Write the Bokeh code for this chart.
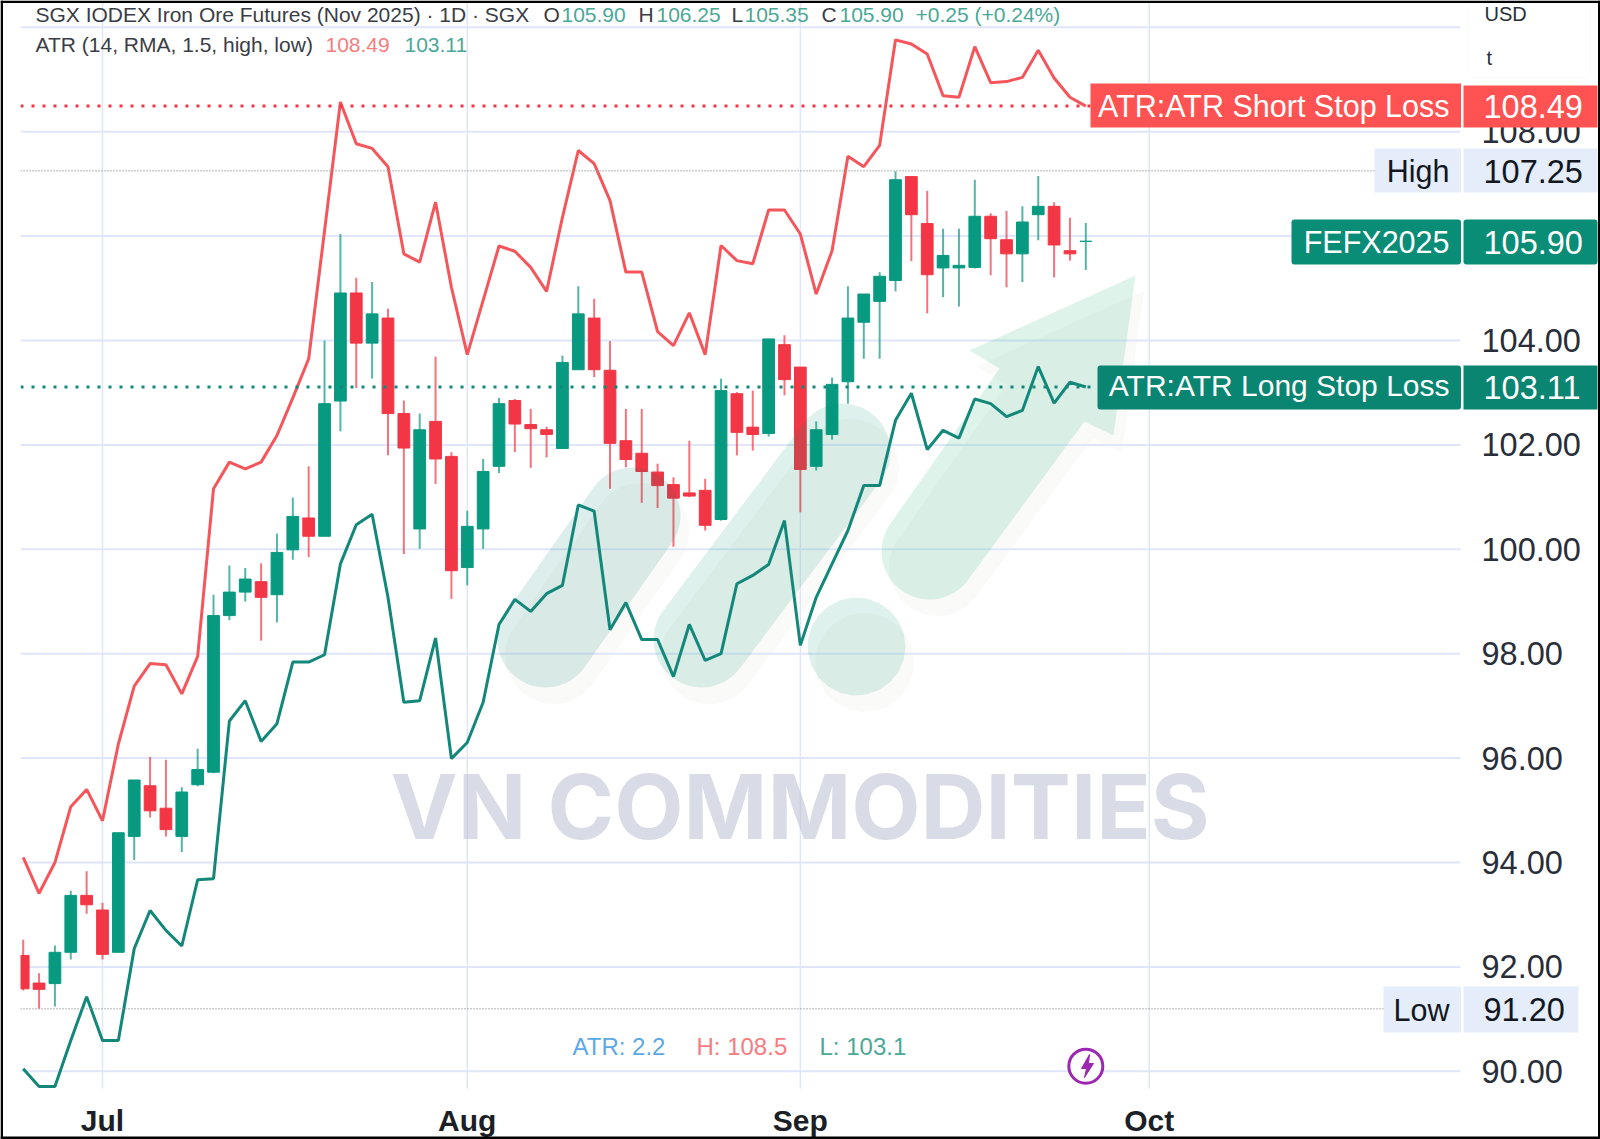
import numpy as np

from bokeh.embed import file_html
from bokeh.models import BoxAnnotation, ColumnDataSource, Label, NumeralTickFormatter, Range1d
from bokeh.plotting import figure
from bokeh.resources import INLINE

# trading-day index, 0 is 1 Jul 2025
days = list(range(-5, 63))

highs = [92.52, 91.88, 92.41, 93.46, 93.83, 93.23, 94.57, 95.58, 96.02, 95.97,
         95.44, 96.18, 99.13, 99.69, 99.64, 99.73, 100.30, 100.99, 101.59, 104.00,
         106.04, 105.20, 105.12, 104.61, 102.85, 102.60, 103.69, 101.86, 100.74, 101.73,
         102.90, 102.88, 102.69, 102.35, 103.71, 105.04, 104.80, 103.99, 102.69, 102.69,
         101.64, 101.38, 102.08, 101.35, 103.27, 103.01, 103.04, 104.03, 104.10, 103.49,
         102.45, 103.29, 105.04, 104.89, 105.31, 107.24, 107.14, 106.87, 106.14, 106.14,
         107.08, 106.44, 106.48, 106.57, 107.15, 106.65, 106.35, 106.25]
lows = [91.55, 91.20, 91.24, 92.14, 93.02, 92.14, 92.28, 94.05, 94.86, 94.50,
        94.20, 95.46, 95.71, 98.64, 99.00, 98.25, 98.60, 99.80, 99.85, 100.25,
        102.26, 103.09, 103.27, 101.80, 99.91, 100.01, 101.25, 99.05, 99.31, 100.01,
        101.46, 101.86, 101.56, 101.76, 101.93, 103.44, 103.30, 101.16, 101.57, 100.89,
        100.79, 100.05, 101.00, 100.36, 100.55, 101.80, 101.89, 102.16, 102.95, 100.71,
        101.51, 102.10, 102.79, 103.65, 103.65, 104.94, 105.52, 104.52, 104.83, 104.65,
        105.38, 105.25, 105.02, 105.12, 105.92, 105.21, 105.53, 105.35]
opens = [92.22, 91.69, 91.68, 92.28, 93.37, 93.09, 92.28, 94.50, 95.47, 95.04,
         94.50, 95.49, 95.73, 98.73, 99.18, 99.38, 99.13, 99.99, 100.60, 100.25,
         102.84, 104.91, 103.95, 104.43, 102.60, 100.39, 102.45, 101.78, 99.65, 100.39,
         101.59, 102.85, 102.39, 102.29, 101.93, 103.44, 104.43, 103.43, 102.08, 101.84,
         101.48, 101.24, 101.08, 101.13, 100.57, 102.98, 102.34, 102.22, 103.92, 103.49,
         101.59, 102.20, 103.21, 104.35, 104.75, 105.15, 107.14, 106.24, 105.39, 105.39,
         105.40, 106.38, 105.93, 105.66, 106.41, 106.57, 105.72, 105.90]
closes = [91.58, 91.57, 92.28, 93.37, 93.19, 92.24, 94.57, 95.58, 94.99, 94.63,
          95.35, 95.78, 98.73, 99.18, 99.43, 99.08, 99.94, 100.63, 100.25, 102.79,
          104.91, 103.95, 104.51, 102.60, 101.94, 102.29, 101.73, 99.59, 100.44, 101.49,
          102.79, 102.40, 102.31, 102.20, 103.58, 104.51, 103.44, 102.03, 101.72, 101.49,
          101.22, 100.98, 101.02, 100.46, 103.04, 102.24, 102.20, 104.03, 103.25, 101.53,
          102.29, 103.16, 104.43, 104.89, 105.23, 107.08, 106.41, 105.26, 105.63, 105.44,
          106.38, 105.95, 105.66, 106.27, 106.57, 105.83, 105.66, 105.90]

atr_short = [94.10, 93.41, 94.00, 95.07, 95.40, 94.80, 96.27, 97.38, 97.81, 97.79,
             97.23, 97.95, 101.16, 101.67, 101.54, 101.67, 102.18, 102.90, 103.65, 106.10,
             108.57, 107.77, 107.68, 107.33, 105.66, 105.50, 106.65, 105.02, 103.73, 104.77,
             105.81, 105.71, 105.40, 104.94, 106.36, 107.64, 107.39, 106.68, 105.31, 105.31,
             104.17, 103.90, 104.53, 103.73, 105.82, 105.53, 105.47, 106.50, 106.50, 106.04,
             104.89, 105.72, 107.53, 107.33, 107.74, 109.76, 109.68, 109.49, 108.69, 108.66,
             109.63, 108.94, 108.96, 109.04, 109.56, 109.03, 108.66, 108.49]
atr_long = [90.05, 89.71, 89.71, 90.59, 91.43, 90.59, 90.59, 92.35, 93.08, 92.70,
            92.40, 93.67, 93.69, 96.71, 97.10, 96.32, 96.66, 97.84, 97.84, 97.98,
            99.72, 100.47, 100.67, 99.08, 97.07, 97.10, 98.30, 95.99, 96.30, 97.07,
            98.56, 99.04, 98.81, 99.15, 99.31, 100.85, 100.73, 98.46, 98.98, 98.27,
            98.27, 97.56, 98.56, 97.87, 98.00, 99.34, 99.50, 99.71, 100.55, 98.16,
            99.08, 99.72, 100.36, 101.22, 101.22, 102.47, 102.99, 101.91, 102.28, 102.13,
            102.88, 102.79, 102.54, 102.66, 103.50, 102.80, 103.20, 103.11]

month_ticks = [0, 23, 44, 66]
month_labels = ["Jul", "Aug", "Sep", "Oct"]
price_ticks = [90, 92, 94, 96, 98, 100, 102, 104, 106, 108, 110]

short_stop = 108.49
long_stop = 103.11
session_high = 107.25
session_low = 91.20

GREEN = "#089981"
RED = "#F23645"
TEXT = "#2a2e39"
FONT = "Liberation Sans"


# pixel helpers for layout pieces, chart data goes through the scales
def X(px):
    return (np.asarray(px, dtype=float) - 102) / 15.86


def Y(py):
    return 104 + (340 - np.asarray(py, dtype=float)) / 52.2


# the frame fills the canvas so the price tags can sit over the axis
p = figure(width=1600, height=1139, output_backend="svg", toolbar_location=None,
           x_range=Range1d(float(X(0)), float(X(1600))), y_range=Range1d(float(Y(1139)), float(Y(0))),
           y_axis_location="right", min_border=0, outline_line_color=None)

p.xaxis.fixed_location = float(Y(1088))
p.yaxis.fixed_location = float(X(1460))
p.xaxis.ticker = month_ticks
p.xaxis.major_label_overrides = dict(zip(month_ticks, month_labels))
p.yaxis.ticker = price_ticks
p.yaxis.formatter = NumeralTickFormatter(format="0.00")
for ax in [p.xaxis, p.yaxis]:
    ax.axis_line_color = None
    ax.major_tick_line_color = None
    ax.minor_tick_line_color = None
p.xaxis.major_label_text_font = FONT
p.xaxis.major_label_text_font_size = "30px"
p.xaxis.major_label_text_font_style = "bold"
p.xaxis.major_label_text_color = "#1c1f26"
p.xaxis.major_label_standoff = 9
p.yaxis.major_label_text_font = FONT
p.yaxis.major_label_text_font_size = "32.5px"
p.yaxis.major_label_text_color = TEXT
p.yaxis.major_label_standoff = 15
p.grid.visible = False

# grid stops short of the price scale
GRID = "#e0e6f9"
p.segment(float(X(20)), price_ticks, float(X(1460)), price_ticks, color=GRID, line_width=2, level="underlay")
p.segment(month_ticks, float(Y(2)), month_ticks, float(Y(1088)), color=GRID, line_width=1.5, level="underlay")

df = ColumnDataSource(dict(day=days, open=opens, high=highs, low=lows, close=closes,
                           color=[GREEN if c >= o else RED for o, c in zip(opens, closes)]))
p.segment("day", "high", "day", "low", color="color", line_width=2, line_alpha=0.7, source=df)
p.vbar("day", 0.74, "open", "close", fill_color="color", line_color="color", line_width=1, source=df)


def arc(cx, cy, r, a0, a1):
    a = np.radians(np.linspace(a0, a1, 24))
    return list(cx + r * np.cos(a)), list(cy + r * np.sin(a))


def capsule(x0, y0, x1, y1, r):
    a = np.degrees(np.arctan2(y1 - y0, x1 - x0))
    xa, ya = arc(x0, y0, r, a + 90, a + 270)
    xb, yb = arc(x1, y1, r, a + 270, a + 450)
    return xa + xb, ya + yb


# background arrow logo
xh, yh = arc(929, 551, 48, 216, 36)
logo = [(capsule(545, 639, 632, 515, 48), "#007a6a"),
        (capsule(701, 639, 842, 451, 48), "#008f6a"),
        (arc(856, 646, 49, 0, 360), "#008f6a"),
        (([1135, 969, 999] + xh + [1084, 1113], [275, 350, 368] + yh + [421, 435]), "#00a868")]
for (xs, ys), col in logo:
    p.patch(X(np.array(xs) + 8), Y(np.array(ys) + 16), color="#fafaf8", level="image")
for (xs, ys), col in logo:
    p.patch(X(xs), Y(ys), color=col, alpha=0.13, line_color=None)

p.line(days, atr_short, color="#f5565c", line_width=3)
p.line(days, atr_long, color="#13877a", line_width=3)

for level, end, col, dash, lw in [(short_stop, 1090, "#f23645", "3 8", 3), (long_stop, 1097, "#13877a", "3 8", 3),
                                  (session_high, 1374, "#9a9a9a", "1 2", 1.5), (session_low, 1383, "#9a9a9a", "1 2", 1.5)]:
    p.line([float(X(20)), float(X(end))], [level, level], color=col, line_dash=dash, line_width=lw)

p.scatter([62], [float(Y(1065.7))], size=34, fill_color="white", line_color="#9c27b0", line_width=3)
p.patch(X([1089, 1081, 1086, 1084, 1093, 1088]), Y([1054, 1068, 1068, 1077, 1063, 1063]), color="#9c27b0")


def box(left, right, top, bottom, color, radius=0, line=None):
    p.add_layout(BoxAnnotation(left=left, right=right, top=top, bottom=bottom,
                               left_units="canvas", right_units="canvas", top_units="canvas", bottom_units="canvas",
                               fill_color=color, fill_alpha=1, line_color=line, border_radius=radius,
                               level="overlay"))


def text(px, py, s, color=TEXT, size=21, align="left", font=FONT, style="normal", alpha=1.0):
    p.add_layout(Label(x=px, y=py, x_units="canvas", y_units="canvas", text=s, text_color=color,
                       text_font_size=f"{size}px", text_align=align, text_baseline="middle",
                       text_font=font, text_font_style=style, text_alpha=alpha, level="overlay"))


# the first candle is cut by the chart's left edge
box(0, 20, 0, 1139, "white")

# watermark
text(390, 806, "VN COMMODITIES", color="#b9bfd2", size=90, font="Inter", style="bold", alpha=0.55)

# price tags: name box, value box
box(1468, 1590, 3, 77, "white", radius=6, line="#f0f1f4")
text(1484, 13, "USD", size=20)
text(1486, 57, "t", size=20)

box(1090, 1460.5, 83, 127, "#ff5252")
box(1463, 1597, 85, 127, "#ff5252")
text(1449, 105, "ATR:ATR Short Stop Loss", color="white", size=30.5, align="right")
text(1483, 106, "108.49", color="white", size=32.5)

box(1374, 1460.5, 148, 192, "#e4edf9")
box(1463, 1597, 148, 192, "#e4edf9")
text(1449, 170, "High", color="#131722", size=30.5, align="right")
text(1483, 171, "107.25", color="#131722", size=32.5)

box(1291, 1460.5, 219, 264, "#0a8d76", radius=3)
box(1463, 1597, 219, 264, "#0a8d76", radius=3)
text(1449, 241, "FEFX2025", color="white", size=30.5, align="right")
text(1483, 242, "105.90", color="white", size=32.5)

box(1097, 1460.5, 365, 409, "#0a8572", radius=3)
box(1463, 1597, 365, 409, "#0a8572")
text(1449, 385, "ATR:ATR Long Stop Loss", color="white", size=30, align="right")
text(1483, 387, "103.11", color="white", size=32.5)

box(1383, 1460.5, 986, 1032, "#e4edf9")
box(1463, 1578, 986, 1032, "#e4edf9")
text(1449, 1009, "Low", color="#131722", size=30.5, align="right")
text(1483, 1009, "91.20", color="#131722", size=32.5)

# header legend
HGREEN = "#4aa896"
text(35, 14, "SGX IODEX Iron Ore Futures (Nov 2025) · 1D · SGX", color="#3a3d45")
for px, s, col in [(543, "O", "#3a3d45"), (561, "105.90", HGREEN), (638, "H", "#3a3d45"), (656, "106.25", HGREEN),
                   (731, "L", "#3a3d45"), (744, "105.35", HGREEN), (821, "C", "#3a3d45"), (839, "105.90", HGREEN),
                   (915, "+0.25 (+0.24%)", HGREEN)]:
    text(px, 14, s, color=col)
text(35, 44, "ATR (14, RMA, 1.5, high, low)", color="#3a3d45")
text(325, 44, "108.49", color="#f77c80")
text(404, 44, "103.11", color=HGREEN)

text(572, 1046, "ATR: 2.2", color="#5aa9e6", size=24)
text(696, 1046, "H: 108.5", color="#f77c80", size=24)
text(819, 1046, "L: 103.1", color=HGREEN, size=24)

# image frame
box(0, 1600, 0, 2.5, "black")
box(0, 1600, 1136, 1139, "black")
box(0, 2.5, 0, 1139, "black")
box(1597.5, 1600, 0, 1139, "black")

open("out.html", "w").write(file_html(p, INLINE))
